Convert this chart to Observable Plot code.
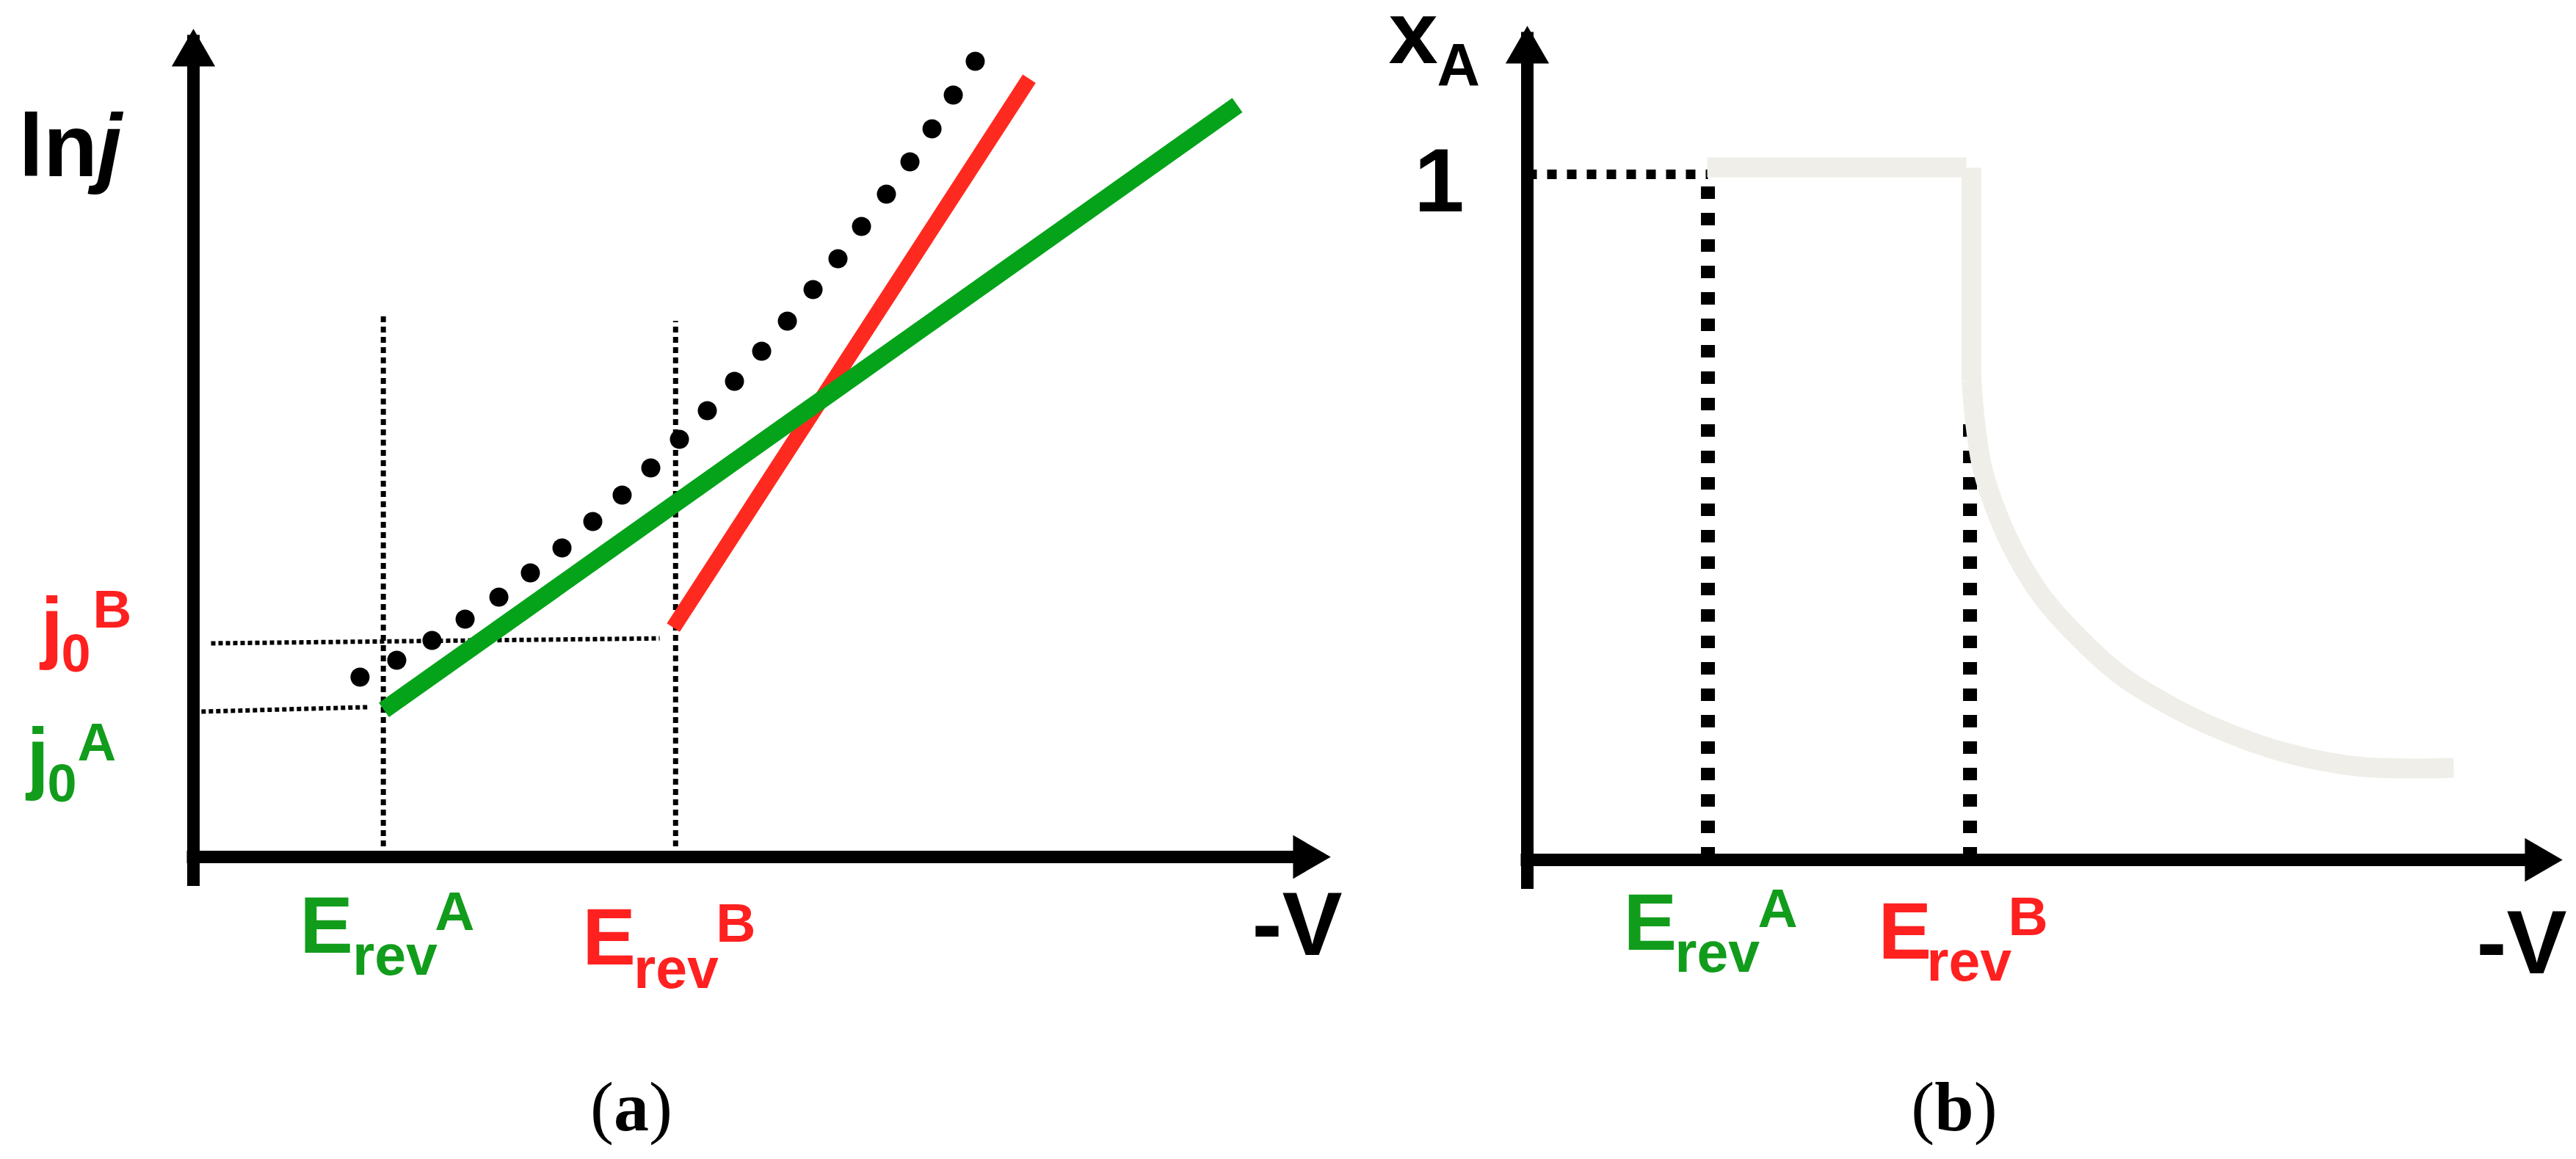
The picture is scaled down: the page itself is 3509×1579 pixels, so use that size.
<!DOCTYPE html>
<html>
<head>
<meta charset="utf-8">
<script src="https://cdn.jsdelivr.net/npm/d3@7"></script>
<script src="https://cdn.jsdelivr.net/npm/@observablehq/plot@0.6"></script>
<style>
html, body { margin: 0; padding: 0; background: #fff; }
#page { position: relative; width: 3509px; height: 1579px; overflow: hidden; background: #fff; }
.panel { position: absolute; top: 0; }
.cap { position: absolute; top: 1460px; width: 400px; text-align: center;
       font-family: "Liberation Serif", "Times New Roman", serif; font-size: 96px; line-height: 96px; color: #000; }
.cap b { font-weight: bold; }
</style>
</head>
<body>
<div id="page">
  <div id="pa" class="panel" style="left:0px"></div>
  <div id="pb" class="panel" style="left:1880px"></div>
  <div class="cap" style="left:660px">(<b>a</b>)</div>
  <div class="cap" style="left:2462px">(<b>b</b>)</div>
</div>
<script>
// ---------------- DATA ----------------
// Panel (a): ln j versus -V (arbitrary schematic units, axis runs 0..10)
const potentialsA = [
  {species: "A", erev: 1.67, top: 6.57},
  {species: "B", erev: 4.24, top: 6.47}
];
const exchangeA = [
  {species: "A", x1: 0.07, y1: 1.755, x2: 1.54, y2: 1.81},
  {species: "B", x1: 0.155, y1: 2.58, x2: 4.10, y2: 2.64}
];
const tafelA = [{v: 1.675, lnj: 1.775}, {v: 9.18, lnj: 9.08}];
const tafelB = [{v: 4.22, lnj: 2.77}, {v: 7.35, lnj: 9.40}];
const totalV   = [1.465, 1.788, 2.098, 2.389, 2.686, 2.963, 3.241, 3.512, 3.770, 4.022, 4.274, 4.519,
                  4.758, 4.997, 5.223, 5.449, 5.668, 5.875, 6.094, 6.301, 6.495, 6.682, 6.875];
const totalLnj = [2.172, 2.376, 2.615, 2.872, 3.138, 3.431, 3.732, 4.051, 4.371, 4.699, 5.044, 5.390,
                  5.745, 6.108, 6.472, 6.853, 7.225, 7.615, 8.005, 8.395, 8.794, 9.202, 9.610];

// Panel (b): x_A versus -V
const potentialsB = [
  {species: "A", erev: 1.745, top: 1.0},
  {species: "B", erev: 4.277, top: 0.639}
];
const unityLine = [{v: 0, xA: 1}, {v: 1.745, xA: 1}];
const plateau = [{v: 1.738, xA: 1.0102}, {v: 4.241, xA: 1.0102}];
const drop = [{v: 4.291, xA: 1.0096}, {v: 4.291, xA: 0.699}];
const decayV  = [4.291, 4.326, 4.397, 4.546, 4.730, 4.979, 5.277, 5.709, 6.149, 6.660, 7.312, 8.043, 8.950];
const decayXA = [0.699, 0.639, 0.571, 0.503, 0.443, 0.383, 0.332, 0.272, 0.230, 0.192, 0.157, 0.136, 0.134];

// ---------------- STYLE ----------------
const FONT = "Liberation Sans, Arial, Helvetica, sans-serif";
const GREEN = "#05a31a", RED = "#ff2a1f", TGREEN = "#129c1c", TRED = "#ff2020", GRAY = "#f0eee8";

const totalCurrent = totalV.map((v, i) => ({v, lnj: totalLnj[i]}));
const decay = decayV.map((v, i) => ({v, xA: decayXA[i]}));

function txt(str, xv, yv, o) {
  return Plot.text([str], {
    x: () => xv, y: () => yv, text: d => d,
    dx: o.dx, dy: o.dy, fontSize: o.size, fill: o.color || "black",
    fontWeight: "bold", fontStyle: o.italic ? "italic" : "normal",
    textAnchor: o.anchor || "start", lineAnchor: "bottom", fontFamily: FONT
  });
}

function axes(xmax, ymax) {
  return [
    Plot.ruleX([0], {y1: () => 0, y2: () => ymax, stroke: "black", strokeWidth: 17, insetTop: 40, insetBottom: -8.5}),
    Plot.ruleY([0], {x1: () => 0, x2: () => xmax, stroke: "black", strokeWidth: 17, insetRight: 40, insetLeft: -8.5}),
    Plot.dot([0], {x: () => 0, y: () => ymax, symbol: "triangle", r: 22, fill: "black", dy: 34}),
    Plot.dot([0], {x: () => xmax, y: () => 0, symbol: "triangle", r: 22, rotate: 90, fill: "black", dx: -34})
  ];
}

function erevLabel(p, color, o) {
  return [
    txt("E", p.erev, 0, {dx: o.E[0], dy: o.E[1], size: 109, color}),
    txt("rev", p.erev, 0, {dx: o.rev[0], dy: o.rev[1], size: 77, color}),
    txt(p.species, p.erev, 0, {dx: o.sup[0], dy: o.sup[1], size: 75, color})
  ];
}

function j0Label(e, color, o) {
  return [
    txt("j", 0, e.y1, {dx: o.j[0], dy: o.j[1], size: 109, color}),
    txt("0", 0, e.y1, {dx: o.sub[0], dy: o.sub[1], size: 72, color}),
    txt(e.species, 0, e.y1, {dx: o.sup[0], dy: o.sup[1], size: 73, color})
  ];
}

// ---------------- PANEL (a) ----------------
const plotA = Plot.plot({
  width: 1880, height: 1420,
  marginLeft: 263, marginRight: 68, marginTop: 39, marginBottom: 253,
  x: {domain: [0, 10], axis: null},
  y: {domain: [0, 10], axis: null},
  style: {background: "white", fontFamily: FONT},
  marks: [
    Plot.ruleX(potentialsA, {x: "erev", y1: () => 0, y2: "top", stroke: "black", strokeWidth: 7, strokeDasharray: "8,6"}),
    Plot.link(exchangeA, {x1: "x1", y1: "y1", x2: "x2", y2: "y2", stroke: "black", strokeWidth: 6, strokeDasharray: "6,4"}),
    Plot.line(tafelB, {x: "v", y: "lnj", stroke: RED, strokeWidth: 21, strokeLinecap: "butt"}),
    Plot.line(tafelA, {x: "v", y: "lnj", stroke: GREEN, strokeWidth: 24, strokeLinecap: "butt"}),
    Plot.dot(totalCurrent, {x: "v", y: "lnj", r: 13, fill: "black"}),
    ...axes(10, 10),
    txt("ln", 0, 10, {dx: -238, dy: 200, size: 121}),
    txt("j", 0, 10, {dx: -131, dy: 200, size: 121, italic: true}),
    txt("-V", 10, 0, {dx: -107, dy: 133, size: 123}),
    ...erevLabel(potentialsA[0], TGREEN, {E: [-114, 130], rev: [-42, 160], sup: [70, 99]}),
    ...erevLabel(potentialsA[1], TRED, {E: [-127, 146], rev: [-57, 178], sup: [55, 115]}),
    ...j0Label(exchangeA[1], TRED, {j: [-208, 14], sub: [-180, 39], sup: [-137, -21]}),
    ...j0Label(exchangeA[0], TGREEN, {j: [-227, 98], sub: [-199, 122], sup: [-158, 66]})
  ]
});
document.getElementById("pa").appendChild(plotA);

// ---------------- PANEL (b) ----------------
const plotB = Plot.plot({
  width: 1629, height: 1420,
  marginLeft: 200, marginRight: 19, marginTop: 35, marginBottom: 249,
  x: {domain: [0, 10], axis: null},
  y: {domain: [0, 1.2163], axis: null},
  style: {background: "white", fontFamily: FONT},
  marks: [
    Plot.ruleX(potentialsB, {x: "erev", y1: () => 0, y2: "top", stroke: "black", strokeWidth: 19, strokeDasharray: "17,19"}),
    Plot.line(unityLine, {x: "v", y: "xA", stroke: "black", strokeWidth: 13, strokeDasharray: "13,14", strokeLinecap: "butt"}),
    Plot.line(plateau, {x: "v", y: "xA", stroke: GRAY, strokeWidth: 27, strokeLinecap: "butt"}),
    Plot.line(drop, {x: "v", y: "xA", stroke: GRAY, strokeWidth: 27, strokeLinecap: "butt"}),
    Plot.line(decay, {x: "v", y: "xA", stroke: GRAY, strokeWidth: 27, strokeLinecap: "butt", curve: "catmull-rom"}),
    ...axes(10, 1.2163),
    txt("x", 0, 1.2163, {dx: -189, dy: 50, size: 121}),
    txt("A", 0, 1.2163, {dx: -123, dy: 80, size: 81}),
    txt("1", 0, 1, {dx: -120, dy: 50, size: 123, anchor: "middle"}),
    txt("-V", 10, 0, {dx: -117, dy: 154, size: 123}),
    ...erevLabel(potentialsB[0], TGREEN, {E: [-115, 122], rev: [-45, 152], sup: [68, 91]}),
    ...erevLabel(potentialsB[1], TRED, {E: [-125, 134], rev: [-59, 164], sup: [52, 102]})
  ]
});
document.getElementById("pb").appendChild(plotB);
</script>
</body>
</html>
